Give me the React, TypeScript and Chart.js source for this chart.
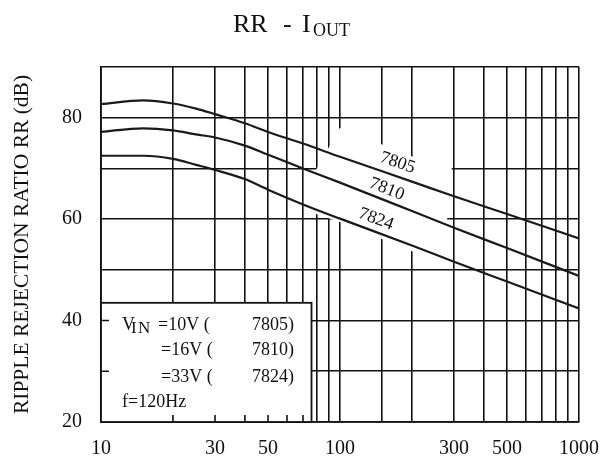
import React, { useEffect, useRef } from 'react';
import { Chart, registerables } from 'chart.js';

Chart.register(...registerables);

// ---- data ----
const currentMA = [10, 15, 20, 25, 30, 40, 50, 70, 100, 200, 300, 500, 1000];
const rr7805 = [82.7, 83.4, 82.8, 81.8, 80.7, 78.9, 77.2, 74.9, 72.3, 67.4, 64.5, 61.0, 56.2];
const rr7810 = [77.2, 77.9, 77.5, 76.7, 76.1, 74.5, 72.7, 70.0, 67.2, 61.6, 58.3, 54.3, 48.8];
const rr7824 = [72.5, 72.5, 71.9, 70.7, 69.7, 67.9, 65.8, 62.9, 60.1, 54.8, 51.6, 47.7, 42.4];
const seriesNames = ['7805', '7810', '7824'];
const vinLabels = ['=10V (', '=16V (', '=33V ('];
const freqLabel = 'f=120Hz';
const xTickLabels = [10, 30, 50, 100, 300, 500, 1000];
const yTickLabels = [20, 40, 60, 80];
const yAxisTitle = 'RIPPLE REJECTION RATIO RR (dB)';

const FONT = "'Liberation Serif', 'Times New Roman', serif";
const INK = '#111';

const overlayPlugin = {
  id: 'overlay',
  beforeDatasetsDraw(chart: any) {
    const { ctx, chartArea } = chart;
    const xs = chart.scales.x;
    const ys = chart.scales.y;
    ctx.save();
    // white gap in the grid behind the curve labels
    const gap = [[79.3, 69.7], [100, 78], [204, 72.2], [294, 70.3], [280, 59.4], [204, 53.5], [98, 59.6], [79.3, 61]];
    ctx.fillStyle = '#fff';
    ctx.beginPath();
    gap.forEach(([gx, gy], i) => {
      const px = xs.getPixelForValue(gx);
      const py = ys.getPixelForValue(gy);
      if (i === 0) ctx.moveTo(px, py); else ctx.lineTo(px, py);
    });
    ctx.closePath();
    ctx.fill();

    // legend box
    const bl = chartArea.left;
    const bb = chartArea.bottom;
    const br = xs.getPixelForValue(76);
    const bt = ys.getPixelForValue(43.5);
    ctx.fillStyle = '#fff';
    ctx.fillRect(bl, bt, br - bl, bb - bt);
    ctx.strokeStyle = INK;
    ctx.lineWidth = 1.8;
    ctx.strokeRect(bl, bt, br - bl, bb - bt);
    ctx.lineWidth = 1.6;
    ctx.beginPath();
    [40, 30].forEach((v) => {
      const py = ys.getPixelForValue(v);
      ctx.moveTo(bl, py);
      ctx.lineTo(bl + 8, py);
    });
    [20, 30, 40, 50, 60, 70].forEach((v) => {
      const px = xs.getPixelForValue(v);
      ctx.moveTo(px, bb);
      ctx.lineTo(px, bb - 7);
    });
    ctx.stroke();
    ctx.restore();
  },
  afterDatasetsDraw(chart: any) {
    const { ctx, chartArea } = chart;
    const xs = chart.scales.x;
    const ys = chart.scales.y;
    ctx.save();
    ctx.fillStyle = INK;
    // curve labels, rotated along curves
    const labelPos = [[174, 71.1], [157, 65.9], [141.5, 60.0]];
    const seriesVals = [rr7805, rr7810, rr7824];
    ctx.font = `18px ${FONT}`;
    ctx.textAlign = 'center';
    ctx.textBaseline = 'middle';
    seriesNames.forEach((name, i) => {
      const vals = seriesVals[i];
      const i1 = currentMA.indexOf(100);
      const i2 = currentMA.indexOf(1000);
      const ang = Math.atan2(
        ys.getPixelForValue(vals[i2]) - ys.getPixelForValue(vals[i1]),
        xs.getPixelForValue(currentMA[i2]) - xs.getPixelForValue(currentMA[i1])
      );
      const px = xs.getPixelForValue(labelPos[i][0]);
      const py = ys.getPixelForValue(labelPos[i][1]);
      ctx.save();
      ctx.translate(px, py);
      ctx.rotate(ang);
      ctx.fillText(name, 0, 0);
      ctx.restore();
    });

    // legend text
    const L = chartArea.left;
    const T = ys.getPixelForValue(43.5);
    ctx.textAlign = 'left';
    ctx.textBaseline = 'alphabetic';
    const rows = [T + 27, T + 52, T + 79];
    ctx.font = `18px ${FONT}`;
    ctx.fillText('V', L + 21, rows[0]);
    ctx.font = `17px ${FONT}`;
    ctx.fillText('I', L + 30, rows[0] + 3);
    ctx.fillText('N', L + 37, rows[0] + 3);
    ctx.font = `18px ${FONT}`;
    vinLabels.forEach((t, i) => {
      ctx.fillText(t, L + (i === 0 ? 57 : 60), rows[i]);
      ctx.fillText(seriesNames[i] + ')', L + 151, rows[i]);
    });
    ctx.fillText(freqLabel, L + 21, T + 104);
    ctx.restore();
  },
  afterDraw(chart: any) {
    const { ctx } = chart;
    ctx.save();
    ctx.fillStyle = INK;
    ctx.textAlign = 'left';
    ctx.textBaseline = 'alphabetic';
    ctx.font = `26px ${FONT}`;
    ctx.fillText('RR', 233, 32);
    ctx.fillText('-', 283, 32);
    ctx.fillText('I', 302, 32);
    ctx.font = `18px ${FONT}`;
    ctx.fillText('OUT', 313, 36);
    ctx.restore();
  },
};

export default function App() {
  const ref = useRef<HTMLCanvasElement | null>(null);

  useEffect(() => {
    document.body.style.margin = '0';
    const canvas = ref.current;
    if (!canvas) return;
    const mk = (vals: number[]) => currentMA.map((x, i) => ({ x, y: vals[i] }));
    const chart = new Chart(canvas, {
      type: 'line',
      data: {
        datasets: [rr7805, rr7810, rr7824].map((vals, i) => ({
          label: seriesNames[i],
          data: mk(vals),
          borderColor: '#1a1a1a',
          borderWidth: 2.2,
          pointRadius: 0,
          fill: false,
          cubicInterpolationMode: 'monotone' as const,
        })),
      },
      options: {
        animation: false,
        responsive: false,
        events: [],
        layout: { padding: { top: 67, right: 24, left: 0, bottom: 0 } },
        plugins: {
          legend: { display: false },
          tooltip: { enabled: false },
          title: { display: false },
        },
        scales: {
          x: {
            type: 'logarithmic',
            min: 10,
            max: 1000,
            afterFit: (s: any) => { s.height = 47; s.paddingLeft = 0; s.paddingRight = 0; },
            grid: { color: INK, lineWidth: 1.6, drawTicks: false },
            border: { display: true, color: INK, width: 1.8 },
            ticks: {
              autoSkip: false,
              maxRotation: 0,
              minRotation: 0,
              padding: 15,
              color: INK,
              font: { family: FONT, size: 20 },
              callback: (v: any) => (xTickLabels.includes(Number(v)) ? String(v) : ''),
            },
          },
          y: {
            type: 'linear',
            min: 20,
            max: 90,
            afterFit: (s: any) => { s.width = 101; s.paddingTop = 0; s.paddingBottom = 0; },
            grid: { color: INK, lineWidth: 1.6, drawTicks: false },
            border: { display: true, color: INK, width: 1.8 },
            title: {
              display: true,
              text: yAxisTitle,
              color: INK,
              font: { family: FONT, size: 21.5 },
              padding: { top: 9, bottom: 0 },
            },
            ticks: {
              stepSize: 10,
              padding: 19,
              color: INK,
              font: { family: FONT, size: 20 },
              callback: (v: any) => (yTickLabels.includes(Number(v)) ? String(v) : ''),
            },
          },
        },
      },
      plugins: [overlayPlugin],
    });
    return () => chart.destroy();
  }, []);

  return (
    <div style={{ position: 'absolute', left: 0, top: 0, width: 603, height: 469, background: '#fff' }}>
      <canvas ref={ref} width={603} height={469} />
    </div>
  );
}
